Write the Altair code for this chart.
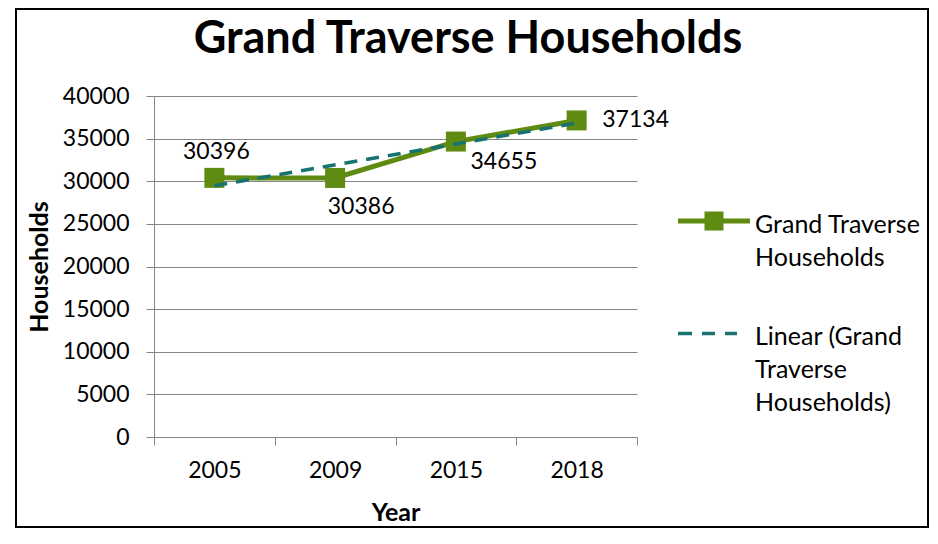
import json
import altair as alt
import pandas as pd

# ---------------- data ----------------
chart_title = "Grand Traverse Households"
years = ["2005", "2009", "2015", "2018"]
households = [30396, 30386, 34655, 37134]
series_names = ["Grand Traverse Households", "Linear (Grand Traverse Households)"]
legend_lines = [["Grand Traverse", "Households"], ["Linear (Grand", "Traverse", "Households)"]]
y_tick_values = [0, 5000, 10000, 15000, 20000, 25000, 30000, 35000, 40000]

# ---------------- style ----------------
GREEN = "#5f8b12"
TEAL = "#177270"
GRID = "#868686"
FONT = "Lato"
NUM_SIZE = 23
W, H = 483, 341
label_offsets = [(2, -26), (26, 29), (48, 20), (59, 0)]  # data-label placement (px)

df = pd.DataFrame({"idx": list(range(len(years))), "year": years, "value": households})

x_scale = alt.Scale(domain=[-0.5, len(years) - 0.5], nice=False, zero=False)
y_scale = alt.Scale(domain=[0, 40000], nice=False)

year_lookup = json.dumps(years)
x_axis = alt.Axis(
    values=[i - 0.5 for i in range(len(years) + 1)],
    labelExpr=f"datum.value < {len(years) - 1} ? {year_lookup}[datum.value + 0.5] : ''",
    labelOffset=W / len(years) / 2,
    labelBaseline="middle",
    labelPadding=25,
    labelOverlap=False,
    labelBound=False,
    labelFlush=False,
    grid=False,
    tickSize=8,
    title="Year",
    titleY=75,
    titleBaseline="middle",
)
y_axis = alt.Axis(
    values=y_tick_values,
    format="d",
    tickSize=8,
    labelPadding=17,
    grid=True,
    title="Households",
    titleAngle=270,
    titleX=-115,
    titleBaseline="middle",
    titleAlign="center",
)

base = alt.Chart(df)

frame = alt.Chart(alt.Data(values=[{"f": 1}])).mark_rect(
    fill="transparent", stroke="black", strokeWidth=2
).encode(x=alt.value(-138), x2=alt.value(774), y=alt.value(-87), y2=alt.value(431))

title = alt.Chart(alt.Data(values=[{"f": 1}])).mark_text(
    font=FONT, fontSize=45, fontWeight="bold", color="black", align="center", baseline="middle"
).encode(x=alt.value(314), y=alt.value(-57.5), text=alt.value(chart_title))

line = base.mark_line(color=GREEN, strokeWidth=5).encode(
    x=alt.X("idx:Q", scale=x_scale, axis=x_axis),
    y=alt.Y("value:Q", scale=y_scale, axis=y_axis),
)
points = base.mark_point(shape="square", filled=True, size=400, color=GREEN, opacity=1).encode(
    x="idx:Q", y="value:Q"
)
trend = base.transform_regression(
    "idx", "value", method="linear", extent=[0, len(years) - 1]
).mark_line(color=TEAL, strokeWidth=3.5, strokeDash=[13, 9]).encode(x="idx:Q", y="value:Q")

labels = []
for i, (dx, dy) in enumerate(label_offsets):
    labels.append(
        base.transform_filter(alt.datum.idx == i)
        .mark_text(font=FONT, fontSize=NUM_SIZE, color="black", dx=dx, dy=dy, baseline="middle", align="center")
        .encode(x="idx:Q", y="value:Q", text=alt.Text("value:Q", format="d"))
    )

# legend carrier (points placed off-canvas to the left, only the legend is visible)
path_series = (
    "M-3.6,0.6L3.6,0.6L3.6,1.1L-3.6,1.1Z"
    "M-0.95,-0.1L0.95,-0.1L0.95,1.8L-0.95,1.8Z"
)
path_trend = (
    "M-3.6,0.68L-2.2,0.68L-2.2,1.02L-3.6,1.02Z"
    "M-1.2,0.68L0.1,0.68L0.1,1.02L-1.2,1.02Z"
    "M1.1,0.68L2.3,0.68L2.3,1.02L1.1,1.02Z"
)
label_expr = (
    f"datum.label == '{series_names[0]}' ? {json.dumps(legend_lines[0])} : {json.dumps(legend_lines[1])}"
)
legend = alt.Legend(
    title=None,
    orient="none",
    legendX=547.5,
    legendY=104,
    symbolSize=400,
    symbolStrokeWidth=0,
    symbolOpacity=1,
    labelOffset=28.5,
    labelFont=FONT,
    labelFontSize=25,
    labelColor="black",
    labelBaseline="top",
    labelLimit=400,
    labelExpr=label_expr,
    rowPadding=41.5,
    padding=0,
)
legend_df = pd.DataFrame({"series": series_names})
carrier = alt.Chart(legend_df).mark_point(filled=True, opacity=1).encode(
    x=alt.value(-5000),
    y=alt.value(200),
    color=alt.Color("series:N", scale=alt.Scale(domain=series_names, range=[GREEN, TEAL]), legend=legend),
    shape=alt.Shape("series:N", scale=alt.Scale(domain=series_names, range=[path_series, path_trend]), legend=legend),
)

chart = (
    alt.layer(frame, title, line, points, trend, *labels, carrier)
    .properties(
        width=W,
        height=H,
        autosize=alt.AutoSizeParams(type="none"),
        padding={"left": 146, "top": 88, "right": 293, "bottom": 91},
    )
    .configure(style={"guide-label": {"lineHeight": 33}})
    .configure_view(stroke=None)
    .configure_axis(
        labelFont=FONT,
        labelFontSize=NUM_SIZE,
        labelColor="black",
        titleFont=FONT,
        titleFontSize=25,
        titleFontWeight="bold",
        titleColor="black",
        domainColor=GRID,
        domainWidth=1,
        tickColor=GRID,
        tickWidth=1,
        gridColor=GRID,
        gridWidth=1,
    )
)

chart.save("out.html", embed_options={"renderer": "svg", "actions": False})
